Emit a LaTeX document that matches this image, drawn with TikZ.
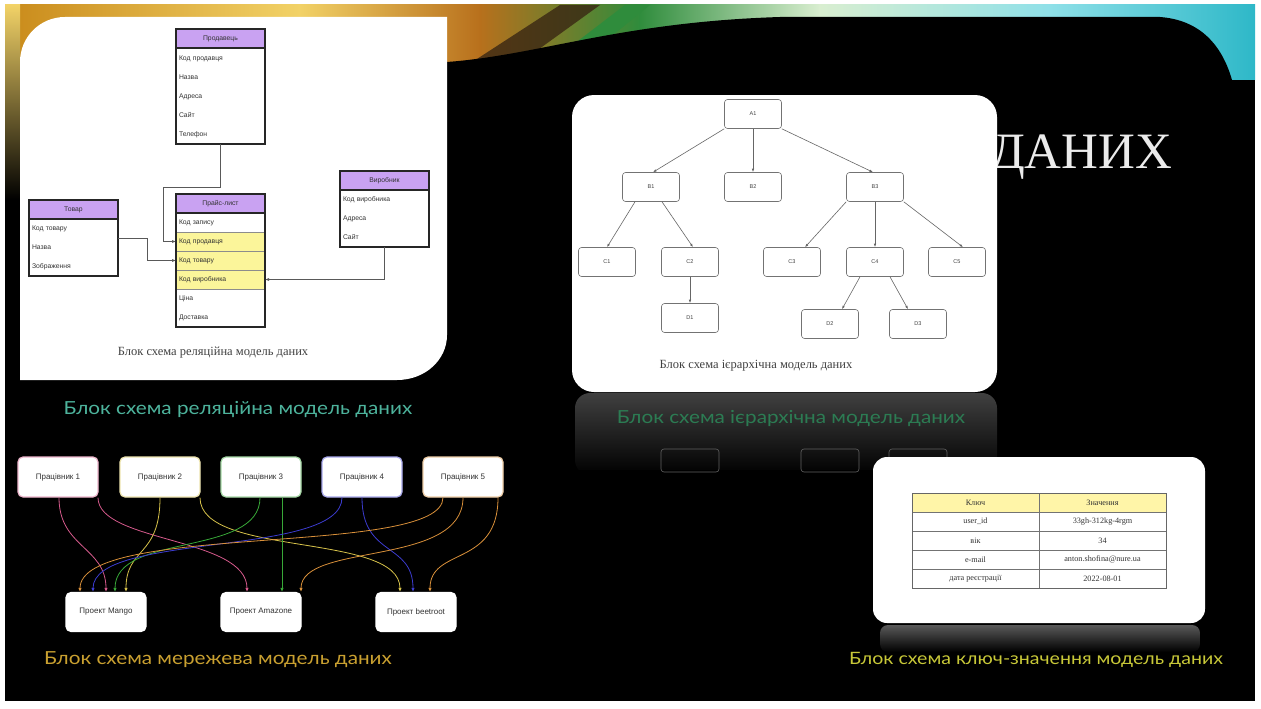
\documentclass[tikz,border=0pt]{standalone}
\usepackage{fontspec}
\setmainfont{Liberation Serif}
\setsansfont{Liberation Sans}
\newfontfamily\capfont[FakeStretch=1.15]{Lato}
\usetikzlibrary{arrows.meta,calc}

\definecolor{bandA}{HTML}{C98A1A}
\definecolor{bandB}{HTML}{F2D267}
\definecolor{bandC}{HTML}{B8701C}
\definecolor{bandD}{HTML}{2F8C3C}
\definecolor{bandE}{HTML}{D9EED0}
\definecolor{bandF}{HTML}{8FE0E8}
\definecolor{bandG}{HTML}{2EB8C8}
\definecolor{hdrpurple}{HTML}{C9A2F2}
\definecolor{keyyellow}{HTML}{FBF59A}
\definecolor{kvyellow}{HTML}{FFF5A8}
\definecolor{linkpink}{HTML}{D65A8C}
\definecolor{linkyellow}{HTML}{D7C24A}
\definecolor{linkgreen}{HTML}{38A838}
\definecolor{linkblue}{HTML}{3C3CD0}
\definecolor{linkorange}{HTML}{D9903A}
\definecolor{reltext}{HTML}{4DB39C}
\definecolor{hiertext}{HTML}{2C8A5A}
\definecolor{nettext}{HTML}{C9A030}
\definecolor{kvtext}{HTML}{C8C838}

\begin{document}
\begin{tikzpicture}[x=1pt,y=-1pt,
  hdr/.style={draw=black!85, line width=1.3pt, fill=hdrpurple, minimum width=89pt,
    minimum height=19pt, inner sep=0pt, outer sep=0pt, anchor=north west,
    font=\sffamily\fontsize{6.8}{7.5}\selectfont, text=black!80},
  row/.style={minimum width=89pt, minimum height=19pt, inner ysep=0pt, inner xsep=3pt,
    outer sep=0pt, text width=83pt, align=left, anchor=north west,
    font=\sffamily\fontsize{6.8}{7.5}\selectfont, text=black!80},
  keyrow/.style={row, fill=keyyellow, draw=black!45, line width=0.4pt},
  tblframe/.style={draw=black!85, line width=1.3pt},
  conn/.style={draw=black!65, line width=0.7pt, -{Latex[length=4pt,width=3pt]}},
  hn/.style={draw=black!55, line width=0.6pt, rounded corners=3pt, fill=white,
    minimum width=57pt, minimum height=29pt, inner sep=0pt,
    font=\sffamily\fontsize{5.5}{6}\selectfont, text=black!75},
  hedge/.style={draw=black!60, line width=0.6pt, -{Latex[length=3.5pt,width=2.5pt]}},
  wbox/.style={fill=white, rounded corners=5pt, minimum width=80pt, minimum height=40pt,
    inner sep=0pt, font=\sffamily\fontsize{8}{9}\selectfont, text=black!80, line width=1.2pt},
  nedge/.style={line width=0.8pt, -{Latex[length=4pt,width=3.5pt]}},
  kvc/.style={draw=black!55, line width=0.5pt, minimum width=127pt, minimum height=19pt,
    inner sep=0pt, outer sep=0pt, anchor=north west,
    font=\fontsize{8.2}{9}\selectfont, text=black!80},
  slidecaption/.style={font=\capfont\fontsize{18}{20}\selectfont},
  incap/.style={font=\fontsize{12.5}{14}\selectfont, text=black!75}
]
\useasboundingbox (0,0) rectangle (1261,709);

% ---------- slide background ----------
\fill[white] (0,0) rectangle (1261,709);
\fill[black] (5,5) rectangle (1255,701);

% colour band along the top
\shade[left color=bandA, right color=bandB] (5,5) rectangle (300,80);
\shade[left color=bandB, right color=bandC] (299,5) rectangle (480,80);
\shade[left color=bandC, right color=bandD] (479,5) rectangle (640,80);
\shade[left color=bandD, right color=bandE] (639,5) rectangle (820,80);
\shade[left color=bandE, right color=bandF] (819,5) rectangle (1050,80);
\shade[left color=bandF, right color=bandG] (1049,5) rectangle (1255,80);
\fill[black!70!brown, opacity=0.8] (460,70) -- (560,5) -- (600,5) -- (510,70) -- cycle;
\fill[bandD] (540,70) -- (625,5) -- (650,5) -- (570,70) -- cycle;
% black swoosh cutting into the band
\fill[black] (447,62) .. controls (540,55) and (620,22) .. (780,17) -- (1160,17)
  .. controls (1200,20) and (1222,45) .. (1232,80) -- (1232,95) -- (447,95) -- cycle;
% left edge strip
\shade[top color=bandB, middle color=red!75!black, bottom color=black] (5,5) rectangle (20,200);

% ---------- heading fragment ----------
\node[anchor=base west, font=\fontsize{51}{51}\selectfont, text=black!8, inner sep=0pt]
  (title) at (990,168) {ДАНИХ};

% ---------- relational model card ----------
\fill[white] (20,380) -- (20,62) .. controls (20,37) and (40,17) .. (65,17) -- (447,17)
  -- (447,335) .. controls (447,360) and (425,380) .. (397,380) -- cycle;

% Продавець
\node[hdr] (sel-h) at (176,29) {Продавець};
\node[row] (sel-r1) at (176,49)  {Код продавця};
\node[row] (sel-r2) at (176,68)  {Назва};
\node[row] (sel-r3) at (176,87)  {Адреса};
\node[row] (sel-r4) at (176,106) {Сайт};
\node[row] (sel-r5) at (176,125) {Телефон};
\draw[tblframe] (sel-h.north west) rectangle (sel-r5.south east);
\draw[tblframe] (sel-h.north west) rectangle (sel-h.south east);

% Товар
\node[hdr] (goods-h) at (29,200) {Товар};
\node[row] (goods-r1) at (29,219) {Код товару};
\node[row] (goods-r2) at (29,238) {Назва};
\node[row] (goods-r3) at (29,257) {Зображення};
\draw[tblframe] (goods-h.north west) rectangle (goods-r3.south east);
\draw[tblframe] (goods-h.north west) rectangle (goods-h.south east);

% Прайс-лист
\node[hdr] (price-h) at (176,194) {Прайс-лист};
\node[row]    (price-r1) at (176,213) {Код запису};
\node[keyrow] (price-r2) at (176,232) {Код продавця};
\node[keyrow] (price-r3) at (176,251) {Код товару};
\node[keyrow] (price-r4) at (176,270) {Код виробника};
\node[row]    (price-r5) at (176,289) {Ціна};
\node[row]    (price-r6) at (176,308) {Доставка};
\draw[tblframe] (price-h.north west) rectangle (price-r6.south east);
\draw[tblframe] (price-h.north west) rectangle (price-h.south east);

% Виробник
\node[hdr] (maker-h) at (340,171) {Виробник};
\node[row] (maker-r1) at (340,190) {Код виробника};
\node[row] (maker-r2) at (340,209) {Адреса};
\node[row] (maker-r3) at (340,228) {Сайт};
\draw[tblframe] (maker-h.north west) rectangle (maker-r3.south east);
\draw[tblframe] (maker-h.north west) rectangle (maker-h.south east);

% foreign keys
\coordinate (selbend) at (163,187);
\coordinate (goodsbend) at (147,238);
\draw[conn] (sel-r5.south) |- (selbend) |- (price-r2.west);
\draw[conn] (goods-r1.south east) -- (goodsbend) |- (price-r3.west);
\draw[conn] (maker-r3.south) |- (price-r4.east);

\node[incap] (relin) at (213,353) {Блок схема реляційна модель даних};
\node[slidecaption, text=reltext] (relcap) at (238,410) {Блок схема реляційна модель даних};

% ---------- hierarchical model card ----------
\fill[white, rounded corners=22pt] (572,95) rectangle (997,392);
% mirrored sheen under the card
\shade[top color=black!75, bottom color=black, rounded corners=15pt] (575,393) rectangle (997,475);
\fill[black] (572,470) rectangle (1000,480);
\foreach \gx in {690,830,918}
  \draw[black!62, line width=0.6pt, rounded corners=3pt] (\gx-29,449) rectangle (\gx+29,472);
\node[slidecaption, text=hiertext, opacity=0.85] (hiercap) at (791,419) {Блок схема ієрархічна модель даних};

\node[hn] (a1) at (753,114) {A1};
\node[hn] (b1) at (651,187) {B1};
\node[hn] (b2) at (753,187) {B2};
\node[hn] (b3) at (875,187) {B3};
\node[hn] (c1) at (607,262) {C1};
\node[hn] (c2) at (690,262) {C2};
\node[hn] (c3) at (792,262) {C3};
\node[hn] (c4) at (875,262) {C4};
\node[hn] (c5) at (957,262) {C5};
\node[hn] (d1) at (690,318) {D1};
\node[hn] (d2) at (830,324) {D2};
\node[hn] (d3) at (918,324) {D3};

\draw[hedge] (a1.south west) -- ([xshift=2pt]b1.north);
\draw[hedge] (a1.south) -- (b2.north);
\draw[hedge] (a1.south east) -- ([xshift=-2pt]b3.north);
\draw[hedge] ([xshift=-16pt]b1.south) -- (c1.north);
\draw[hedge] ([xshift=11pt]b1.south) -- ([xshift=3pt]c2.north);
\draw[hedge] (c2.south) -- (d1.north);
\draw[hedge] (b3.south west) -- ([xshift=13pt]c3.north);
\draw[hedge] (b3.south) -- (c4.north);
\draw[hedge] (b3.south east) -- ([xshift=6pt]c5.north);
\draw[hedge] ([xshift=-15pt]c4.south) -- ([xshift=12pt]d2.north);
\draw[hedge] ([xshift=15pt]c4.south) -- ([xshift=-10pt]d3.north);

\node[incap] (hierin) at (756,366) {Блок схема ієрархічна модель даних};

% ---------- network model ----------
\node[wbox, draw=linkpink!45]   (p1) at (58,477)  {Працівник 1};
\node[wbox, draw=linkyellow!45] (p2) at (160,477) {Працівник 2};
\node[wbox, draw=linkgreen!45]  (p3) at (261,477) {Працівник 3};
\node[wbox, draw=linkblue!45]   (p4) at (362,477) {Працівник 4};
\node[wbox, draw=linkorange!45] (p5) at (463,477) {Працівник 5};
\node[wbox, draw=white, minimum height=39pt] (mango) at (106,612) {Проект Mango};
\node[wbox, draw=white, minimum height=39pt] (amaz)  at (261,612) {Проект Amazone};
\node[wbox, draw=white, minimum height=39pt] (beet)  at (416,612) {Проект beetroot};

\draw[nedge, linkpink]   ([xshift=1pt]p1.south) .. controls +(0,50) and +(0,-45) .. (mango.north);
\draw[nedge, linkpink]   ([xshift=40pt]p1.south) .. controls +(0,45) and +(0,-55) .. ([xshift=-14pt]amaz.north);
\draw[nedge, linkyellow] (p2.south) .. controls +(0,60) and +(0,-45) .. ([xshift=20pt]mango.north);
\draw[nedge, linkyellow] ([xshift=40pt]p2.south) .. controls +(0,60) and +(0,-60) .. ([xshift=-16pt]beet.north);
\draw[nedge, linkgreen]  ([xshift=-1pt]p3.south) .. controls +(0,60) and +(0,-60) .. ([xshift=9pt]mango.north);
\draw[nedge, linkgreen]  ([xshift=21pt]p3.south) -- ([xshift=21pt]amaz.north);
\draw[nedge, linkblue]   ([xshift=-20pt]p4.south) .. controls +(0,60) and +(0,-60) .. ([xshift=-13pt]mango.north);
\draw[nedge, linkblue]   (p4.south) .. controls +(0,60) and +(0,-50) .. ([xshift=-3pt]beet.north);
\draw[nedge, linkorange] ([xshift=-20pt]p5.south) .. controls +(0,60) and +(0,-70) .. ([xshift=-26pt]mango.north);
\draw[nedge, linkorange] (p5.south) .. controls +(0,70) and +(0,-50) .. ([xshift=40pt]amaz.north);
\draw[nedge, linkorange] ([xshift=35pt]p5.south) .. controls +(0,70) and +(0,-45) .. ([xshift=14pt]beet.north);

\node[slidecaption, text=nettext] (netcap) at (218,660) {Блок схема мережева модель даних};

% ---------- key-value model card ----------
\fill[white, rounded corners=14pt] (873,457) rectangle (1205,623);
\shade[top color=black!65, bottom color=black, rounded corners=8pt] (880,625) rectangle (1200,652);

\node[kvc, fill=kvyellow] (kv-h1) at (912,493) {Ключ};
\node[kvc, fill=kvyellow] (kv-h2) at (1039,493) {Значення};
\node[kvc] (kv-11) at (912,512)  {user\_id};
\node[kvc] (kv-12) at (1039,512) {33gh-312kg-4rgm};
\node[kvc] (kv-21) at (912,531)  {вік};
\node[kvc] (kv-22) at (1039,531) {34};
\node[kvc] (kv-31) at (912,550)  {e-mail};
\node[kvc] (kv-32) at (1039,550) {anton.shofina@nure.ua};
\node[kvc] (kv-41) at (912,569)  {дата реєстрації};
\node[kvc] (kv-42) at (1039,569) {2022-08-01};
\draw[black!60, line width=0.8pt] (kv-h1.north west) rectangle (kv-42.south east);

\node[slidecaption, text=kvtext, font=\capfont\fontsize{17}{19}\selectfont] (kvcap) at (1036,660) {Блок схема ключ-значення модель даних};

\end{tikzpicture}
\end{document}
